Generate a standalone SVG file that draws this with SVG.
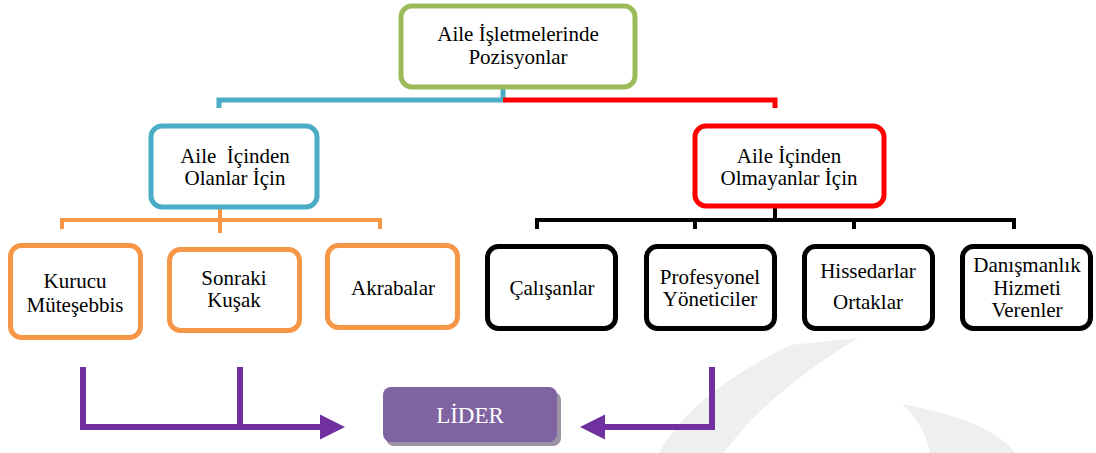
<svg xmlns="http://www.w3.org/2000/svg" width="1096" height="453" viewBox="0 0 1096 453">
<style>
text{font-family:'Liberation Serif','Times New Roman',serif;font-size:21px;fill:#000;text-anchor:middle}
.box{fill:#fff;stroke-width:5}
.g{stroke:#9BBB59}.b{stroke:#4BACC6}.r{stroke:#FF0000}.o{stroke:#F79646}.k{stroke:#000}
.ln{fill:none;stroke-linejoin:miter;stroke-linecap:butt}
.wm{fill:#efefef}
.lt{fill:#fff;font-size:23px}
</style>
<defs>
<marker id="ah" viewBox="0 0 10 10" refX="0" refY="5" markerWidth="4.2" markerHeight="4.2" orient="auto" markerUnits="strokeWidth">
<path d="M0,0 L10,5 L0,10 Z" fill="#7030A0"/>
</marker>
</defs>
<rect width="1096" height="453" fill="#fff"/>
<g id="watermark">
<path class="wm" d="M790,345 Q690,395 659,453 L724,453 Q765,395 858,338 Z"/>
<path class="wm" d="M902,404 Q990,420 1015,453 L930,453 Q925,425 902,404 Z"/>
</g>
<g id="connectors" class="ln">
<path d="M503,88 V100 H219 V108" stroke="#4BACC6" stroke-width="5"/>
<path d="M503,100 H775 V108" stroke="#FF0000" stroke-width="5"/>
<path d="M220,208 V233 M62,229 V220 H380 V229" stroke="#F79646" stroke-width="4"/>
<path d="M775,208 V220 M537,229 V220 H1014 V229 M695,220 V229 M854,220 V229" stroke="#000" stroke-width="4"/>
<path d="M83,367 V427 H320" stroke="#7030A0" stroke-width="6" marker-end="url(#ah)"/>
<path d="M240,367 V427" stroke="#7030A0" stroke-width="6"/>
<path d="M712,367 V427 H605" stroke="#7030A0" stroke-width="6" marker-end="url(#ah)"/>
</g>
<g id="n-top">
<rect class="box g" x="401" y="6" width="234" height="81" rx="11"/>
<text x="518" y="41">Aile İşletmelerinde</text>
<text x="518" y="64">Pozisyonlar</text>
</g>
<g id="n-aile-icinden">
<rect class="box b" x="151" y="126" width="166" height="81" rx="11"/>
<text x="235" y="163" xml:space="preserve">Aile  İçinden</text>
<text x="235" y="185">Olanlar İçin</text>
</g>
<g id="n-aile-disindan">
<rect class="box r" x="695" y="126" width="189" height="80" rx="11"/>
<text x="789" y="163">Aile İçinden</text>
<text x="789" y="185">Olmayanlar İçin</text>
</g>
<g id="n-kurucu">
<rect class="box o" x="10.5" y="245.5" width="130" height="92" rx="11"/>
<text x="75" y="288">Kurucu</text>
<text x="75" y="312">Müteşebbis</text>
</g>
<g id="n-sonraki">
<rect class="box o" x="169.5" y="249.5" width="130" height="81" rx="11"/>
<text x="234" y="285">Sonraki</text>
<text x="234" y="307">Kuşak</text>
</g>
<g id="n-akrabalar">
<rect class="box o" x="327.5" y="245.5" width="130" height="82" rx="11"/>
<text x="393" y="295">Akrabalar</text>
</g>
<g id="n-calisanlar">
<rect class="box k" x="487.5" y="246.5" width="128" height="82" rx="11"/>
<text x="552" y="295">Çalışanlar</text>
</g>
<g id="n-profesyonel">
<rect class="box k" x="646.5" y="246.5" width="128" height="82" rx="11"/>
<text x="710" y="284">Profesyonel</text>
<text x="710" y="306">Yöneticiler</text>
</g>
<g id="n-hissedarlar">
<rect class="box k" x="804.5" y="246.5" width="128" height="82" rx="11"/>
<text x="868" y="278">Hissedarlar</text>
<text x="868" y="309">Ortaklar</text>
</g>
<g id="n-danismanlik">
<rect class="box k" x="962.5" y="246.5" width="128" height="82" rx="11"/>
<text x="1027" y="272">Danışmanlık</text>
<text x="1027" y="295">Hizmeti</text>
<text x="1027" y="317">Verenler</text>
</g>
<g id="n-lider">
<rect x="386" y="392" width="175" height="54" rx="8" fill="#9C93A6"/>
<rect x="383" y="387" width="174" height="55" rx="8" fill="#8064A2"/>
<text class="lt" x="470" y="423">LİDER</text>
</g>
</svg>
